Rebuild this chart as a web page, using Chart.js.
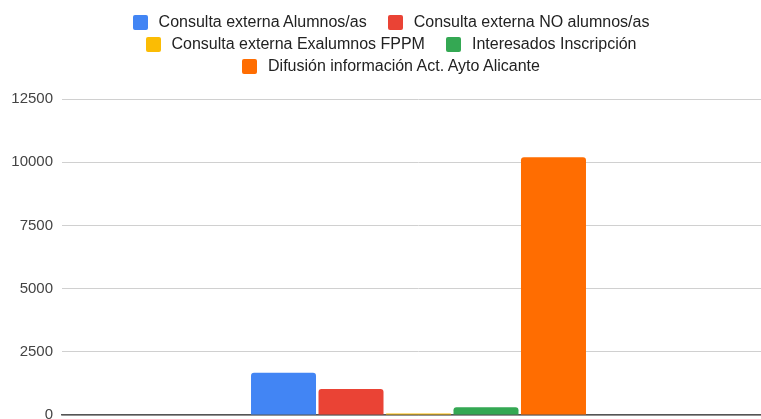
<!DOCTYPE html>
<html>
<head>
<meta charset="utf-8">
<script src="https://cdn.jsdelivr.net/npm/chart.js@4"></script>
<style>
  html, body { margin: 0; padding: 0; background: #fff; overflow: hidden; }
  #wrap { position: relative; width: 761px; height: 419px; overflow: hidden; }
  #chart { position: absolute; left: 0; top: 0; }
  #legend {
    position: absolute; left: 111px; top: 11px; width: 560px;
    display: flex; flex-wrap: wrap; justify-content: center; column-gap: 21px;
    font: 16px "Liberation Sans", Arial, sans-serif; color: #222; line-height: 22px;
  }
  .item { display: flex; align-items: center; white-space: nowrap; }
  .box { width: 15px; height: 15px; border-radius: 2px; margin-right: 11px; }
</style>
</head>
<body>
<div id="wrap">
  <canvas id="chart" width="775" height="419"></canvas>
  <div id="legend"></div>
</div>
<script>
'use strict';

const categories = [''];
const seriesNames = [
  'Consulta externa Alumnos/as',
  'Consulta externa NO alumnos/as',
  'Consulta externa Exalumnos FPPM',
  'Interesados Inscripción',
  'Difusión información Act. Ayto Alicante'
];
const seriesValues = [1670, 1030, 60, 310, 10200];
const seriesColors = ['#4285F4', '#EA4335', '#FBBC04', '#34A853', '#FF6D01'];
const yTicks = [0, 2500, 5000, 7500, 10000, 12500];

document.getElementById('legend').innerHTML = seriesNames.map((n, i) => `
  <div class="item"><span class="box" style="background:${seriesColors[i]}"></span>${n}</div>`).join('');

const datasets = seriesNames.map((name, i) => ({
  label: name,
  data: [seriesValues[i]],
  backgroundColor: seriesColors[i],
  borderRadius: { topLeft: 3, topRight: 3 },
  borderSkipped: 'bottom',
  barPercentage: 0.963,
  categoryPercentage: 0.4733
}));

new Chart(document.getElementById('chart'), {
  type: 'bar',
  data: { labels: categories, datasets },
  options: {
    responsive: false,
    animation: false,
    layout: { padding: { top: 99, bottom: 4, left: 0, right: 0 } },
    plugins: { legend: { display: false }, tooltip: { enabled: false } },
    scales: {
      x: {
        ticks: { display: false },
        grid: { display: false },
        border: { display: true, color: '#555', width: 1.5 },
        afterFit: s => { s.height = 0; s.paddingLeft = 0; s.paddingRight = 0; }
      },
      y: {
        min: yTicks[0],
        max: yTicks[yTicks.length - 1],
        afterBuildTicks: s => { s.ticks = yTicks.map(v => ({ value: v })); },
        ticks: {
          color: '#444', padding: 9,
          font: { family: 'Liberation Sans', size: 15 },
          callback: v => String(v)
        },
        grid: { color: '#d0d0d0', drawTicks: false },
        border: { display: false },
        afterFit: s => { s.width = 62; s.paddingTop = 0; s.paddingBottom = 0; }
      }
    }
  }
});
</script>
</body>
</html>
